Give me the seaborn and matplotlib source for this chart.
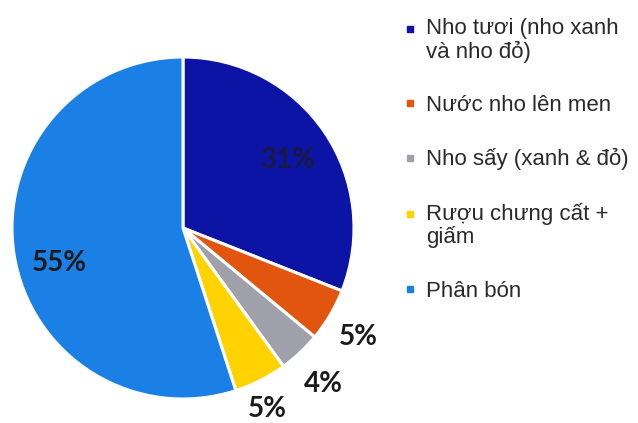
import numpy as np
import matplotlib.pyplot as plt
from matplotlib.lines import Line2D
from matplotlib.transforms import ScaledTranslation
import seaborn as sns

# --- data ---
categories = [
    "Nho tươi (nho xanh\nvà nho đỏ)",
    "Nước nho lên men",
    "Nho sấy (xanh & đỏ)",
    "Rượu chưng cất +\ngiấm",
    "Phân bón",
]
shares = [31, 5, 4, 5, 55]
pct_labels = ["31%", "5%", "4%", "5%", "55%"]

colors = ["#0B14A4", "#E2550F", "#A0A0AA", "#FFD200", "#1B80E6"]
# label placement per slice: (radius, angle offset in degrees)
label_pos = [(0.73, -1), (1.21, -1.3), (1.23, -1.2), (1.17, -2), (0.75, 7)]
label_colors = ["#1a1a40", "#1a1a1a", "#1a1a1a", "#1a1a1a", "#1a1a1a"]

sns.set_style("white")
plt.rcParams["font.family"] = ["Liberation Sans", "DejaVu Sans"]

fig = plt.figure(figsize=(6.38, 4.23), dpi=100)
W, H = 638, 423
cx, cy, r = 183, 228, 171
ax = fig.add_axes([(cx - r) / W, (H - cy - r) / H, 2 * r / W, 2 * r / H])

wedges, _ = ax.pie(
    shares,
    colors=colors,
    startangle=90,
    counterclock=False,
    wedgeprops=dict(edgecolor="white", linewidth=2.2),
)
ax.set_xlim(-1, 1)
ax.set_ylim(-1, 1)
ax.set_aspect("equal")

for w, txt, (dist, off), col in zip(wedges, pct_labels, label_pos, label_colors):
    mid = np.deg2rad((w.theta1 + w.theta2) / 2 + off)
    ax.text(dist * np.cos(mid), dist * np.sin(mid), txt,
            ha="center", va="center", fontsize=20, fontweight="bold",
            family=["Lato", "DejaVu Sans"], color=col)

handles = [Line2D([], [], linestyle="none", marker="s", markersize=5,
                  markerfacecolor=c, markeredgecolor=c) for c in colors]
leg = fig.legend(handles, categories, loc="upper left",
                 bbox_to_anchor=(403 / W, 1 - 18 / H), frameon=False,
                 fontsize=16, labelcolor="#2a2a2a", handlelength=0.6,
                 handletextpad=0.45, labelspacing=1.45, borderpad=0,
                 borderaxespad=0)
for t in leg.get_texts():
    t.set_linespacing(1.1)

# put the marker of two-line entries on the first line
for h, lab in zip(leg.legend_handles, categories):
    if "\n" in lab:
        h.set_transform(h.get_transform()
                        + ScaledTranslation(0, 0.12, fig.dpi_scale_trans))

fig.savefig("out.png", dpi=100)
